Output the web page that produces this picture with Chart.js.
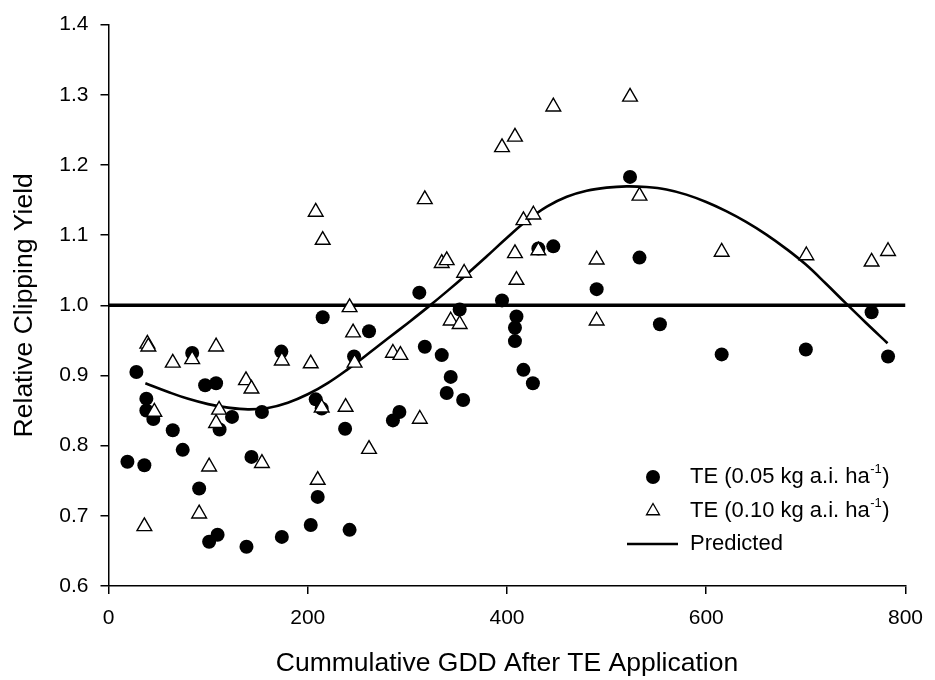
<!DOCTYPE html>
<html>
<head>
<meta charset="utf-8">
<script src="https://cdn.jsdelivr.net/npm/chart.js@4"></script>
<style>
  html, body { margin: 0; padding: 0; background: #fff; }
  #wrap { width: 935px; height: 680px; }
</style>
</head>
<body>
<div id="wrap"><canvas id="c" width="935" height="680"></canvas></div>
<script>
// ---- Data ----
const xTitle = "Cummulative GDD After TE Application";
const yTitle = "Relative Clipping Yield";
const xTicks = [0, 200, 400, 600, 800];
const yTicks = [0.6, 0.7, 0.8, 0.9, 1.0, 1.1, 1.2, 1.3, 1.4];

// TE (0.05 kg a.i. ha-1): filled circles
const lowX = [19,28,36,38,38,45,64.5,74.5,84,91,97,101,108,109.5,111.5,124,138.5,143.5,154,173.5,174,203,208,210,214,215,237.5,242,246.5,261.5,285.5,292,312,317.5,334.5,339.5,343.5,352.5,356,395,408,408,409.5,416.5,426,431.5,446.5,490,523.5,533,553.5,615.5,700,766,782.5];
const lowY = [0.777,0.905,0.772,0.867,0.850,0.838,0.822,0.794,0.932,0.739,0.886,0.663,0.889,0.673,0.823,0.841,0.656,0.784,0.848,0.934,0.670,0.687,0.866,0.727,0.853,0.983,0.824,0.680,0.927,0.963,0.836,0.848,1.018,0.941,0.929,0.875,0.898,0.994,0.865,1.007,0.968,0.949,0.984,0.908,0.889,1.081,1.084,1.023,1.183,1.068,0.973,0.930,0.937,0.990,0.927];

// TE (0.10 kg a.i. ha-1): open triangles
const highX = [36,39,40,46,64.5,84,91,101,108,108,111,138,143.5,154,174,203,208,210,214,215,238,242,245.5,247,261.5,285.5,293,312.5,317.5,334.5,339.5,343.5,352.5,357,395,408,408,409.5,416.5,426.5,431.5,446.5,490,490,523.5,533,615.5,700.5,766,782.5];
const highY = [0.685,0.945,0.941,0.848,0.918,0.923,0.703,0.770,0.941,0.832,0.851,0.893,0.881,0.775,0.921,0.917,1.133,0.751,0.854,1.093,0.855,0.997,0.961,0.918,0.795,0.932,0.929,0.838,1.151,1.060,1.064,0.978,0.973,1.046,1.225,1.240,1.074,1.036,1.121,1.129,1.078,1.283,1.065,0.978,1.297,1.156,1.076,1.071,1.062,1.077];

// Predicted curve
const predX = [37,60,80,100,120,140,160,180,200,220,240,260,280,300,320,340,360,380,400,420,440,460,480,500,520,540,560,580,600,620,640,660,680,700,720,740,760,782];
const predY = [0.889,0.8765,0.8667,0.8592,0.8542,0.8517,0.8537,0.8612,0.8732,0.8892,0.9087,0.9302,0.9522,0.9742,0.9967,1.0202,1.0447,1.0702,1.0962,1.1207,1.1407,1.1547,1.1632,1.1677,1.1695,1.1685,1.1650,1.1577,1.1472,1.1342,1.1189,1.1011,1.0808,1.0580,1.0310,1.0030,0.9755,0.9460];

// Reference line y = 1.0
const refX = [0, 800];
const refY = [1.0, 1.0];

const legendLabels = ["TE (0.05 kg a.i. ha", "TE (0.10 kg a.i. ha", "Predicted"];
const legendSup = "-1";

const zip = (xs, ys) => xs.map((x, i) => ({ x: x, y: ys[i] }));
const FONT = "'Liberation Sans', Arial, sans-serif";

const legendPlugin = {
  id: 'customLegend',
  afterDraw(chart) {
    const ctx = chart.ctx;
    ctx.save();
    const mx = 653, tx = 690;
    const rows = [477, 511, 544];
    ctx.fillStyle = '#000';
    ctx.beginPath(); ctx.arc(mx, rows[0], 7, 0, Math.PI * 2); ctx.fill();
    const r = 7.5;
    ctx.beginPath();
    for (let k = 0; k < 3; k++) {
      const a = k * 2 * Math.PI / 3;
      const px = mx + Math.sin(a) * r, py = rows[1] - Math.cos(a) * r;
      if (k === 0) ctx.moveTo(px, py); else ctx.lineTo(px, py);
    }
    ctx.closePath();
    ctx.fillStyle = '#fff'; ctx.fill();
    ctx.lineWidth = 1.3; ctx.strokeStyle = '#000'; ctx.stroke();
    ctx.beginPath(); ctx.moveTo(627, rows[2]); ctx.lineTo(678, rows[2]);
    ctx.lineWidth = 2.5; ctx.stroke();
    ctx.fillStyle = '#000';
    ctx.textBaseline = 'middle';
    ctx.textAlign = 'left';
    for (let i = 0; i < 3; i++) {
      ctx.font = '22px ' + FONT;
      ctx.fillText(legendLabels[i], tx, rows[i]);
      if (i < 2) {
        const w = ctx.measureText(legendLabels[i]).width;
        ctx.font = '13px ' + FONT;
        ctx.fillText(legendSup, tx + w + 0.5, rows[i] - 8);
        const ws = ctx.measureText(legendSup).width;
        ctx.font = '22px ' + FONT;
        ctx.fillText(')', tx + w + ws + 1, rows[i]);
      }
    }
    ctx.restore();
  }
};

new Chart(document.getElementById('c'), {
  type: 'scatter',
  data: {
    datasets: [
      {
        label: 'TE (0.10 kg a.i. ha-1)',
        data: zip(highX, highY),
        pointStyle: 'triangle',
        pointRadius: 8.5,
        pointBackgroundColor: '#fff',
        pointBorderColor: '#000',
        pointBorderWidth: 1.4,
        order: 0
      },
      {
        label: 'TE (0.05 kg a.i. ha-1)',
        data: zip(lowX, lowY),
        pointStyle: 'circle',
        pointRadius: 7,
        pointBackgroundColor: '#000',
        pointBorderColor: '#000',
        pointBorderWidth: 0,
        order: 1
      },
      {
        label: 'Predicted',
        data: zip(predX, predY),
        showLine: true,
        pointRadius: 0,
        borderColor: '#000',
        borderWidth: 2.6,
        tension: 0.4,
        fill: false,
        order: 2
      },
      {
        label: 'Reference',
        data: zip(refX, refY),
        showLine: true,
        pointRadius: 0,
        borderColor: '#000',
        borderWidth: 3.5,
        fill: false,
        order: 3
      }
    ]
  },
  options: {
    responsive: false,
    animation: false,
    events: [],
    layout: { padding: { left: 0, right: 23, top: 24, bottom: 0 } },
    plugins: {
      legend: { display: false },
      tooltip: { enabled: false },
      title: { display: false }
    },
    scales: {
      x: {
        type: 'linear',
        min: xTicks[0],
        max: xTicks[xTicks.length - 1],
        afterFit(s) { s.height = 94; },
        afterBuildTicks(s) { s.ticks = xTicks.map(v => ({ value: v })); },
        grid: { display: true, drawOnChartArea: false, drawTicks: true, tickLength: 8, color: '#000', lineWidth: 1.5 },
        border: { display: true, color: '#000', width: 1.5 },
        ticks: { color: '#000', font: { family: FONT, size: 21 }, padding: 12, maxRotation: 0, callback: v => String(v) },
        title: { display: true, text: xTitle, color: '#000', font: { family: FONT, size: 26.5 }, padding: { top: 0, bottom: 0 } }
      },
      y: {
        type: 'linear',
        min: yTicks[0],
        max: yTicks[yTicks.length - 1],
        afterFit(s) { s.width = 108.5; },
        afterBuildTicks(s) { s.ticks = yTicks.map(v => ({ value: v })); },
        grid: { display: true, drawOnChartArea: false, drawTicks: true, tickLength: 8, color: '#000', lineWidth: 1.5 },
        border: { display: true, color: '#000', width: 1.5 },
        ticks: { color: '#000', font: { family: FONT, size: 21 }, padding: 12, callback: v => Number(v).toFixed(1) },
        title: { display: true, text: yTitle, color: '#000', font: { family: FONT, size: 26.5 }, padding: { top: 9, bottom: 0 } }
      }
    }
  },
  plugins: [legendPlugin]
});
</script>
</body>
</html>
